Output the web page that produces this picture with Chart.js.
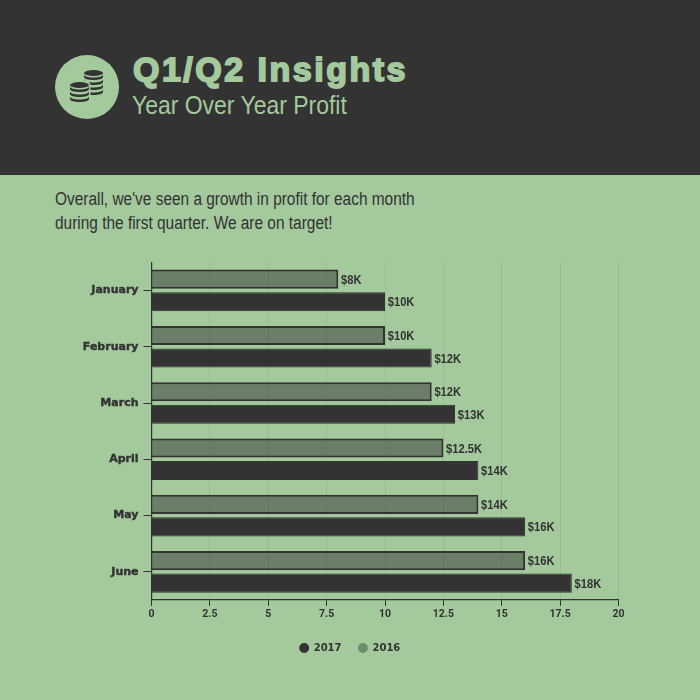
<!DOCTYPE html>
<html><head><meta charset="utf-8">
<style>
html,body{margin:0;padding:0;background:#a3c99d;}
#page{position:relative;width:700px;height:700px;overflow:hidden;background:#a3c99d;}
#hdr{position:absolute;left:0;top:0;width:700px;height:175px;background:#333333;}
.t{position:absolute;white-space:nowrap;transform-origin:left top;}
#title{left:133px;top:49px;font:bold 34px/40px "Liberation Sans";letter-spacing:2.5px;color:#a3c99d;-webkit-text-stroke:1.8px #a3c99d;}
#sub{left:132px;top:89px;font:26px/32px "Liberation Sans";color:#a3c99d;transform:scaleX(.883);}
#body{left:55px;top:188px;font:18px/23.500px "Liberation Sans";color:#333333;transform:scaleX(.857);}
#icon{position:absolute;left:55px;top:55px;}
#c{position:absolute;left:0;top:250px;}
</style></head><body>
<div id="page">
<div id="hdr"></div>
<svg id="icon" width="64" height="64" viewBox="0 0 64 64">
<defs>
<path id="band" d="M0 0v2.500c0 1.700 4.300 3 9.500 3s9.500-1.300 9.500-3V0c0 1.700-4.300 3-9.500 3S0 1.700 0 0z"/>
</defs>
<circle cx="32" cy="32" r="32" fill="#a3c99d"/>
<g fill="#333333">
<ellipse cx="38.500" cy="18" rx="9.500" ry="3"/>
<use href="#band" x="29" y="19.500"/><use href="#band" x="29" y="24.500"/><use href="#band" x="29" y="29.500"/><use href="#band" x="29" y="34.500"/>
<path d="M13.500 30c0-3 4-5 11-5s11 2 11 5v17h-22z" fill="#a3c99d"/>
<ellipse cx="24.500" cy="30" rx="9.500" ry="3"/>
<use href="#band" x="15" y="31.500"/><use href="#band" x="15" y="36.500"/><use href="#band" x="15" y="41.500"/>
</g>
</svg>
<div class="t" id="title">Q1/Q2 Insights</div>
<div class="t" id="sub">Year Over Year Profit</div>
<div class="t" id="body">Overall, we've seen a growth in profit for each month<br>during the first quarter. We are on target!</div>
<canvas id="c" width="700" height="450" style="width:700px;height:450px"></canvas>
</div>
<script src="https://cdn.jsdelivr.net/npm/chart.js@4"></script>
<script>
const months = ["January","February","March","April","May","June"];
const values2016 = [8,10,12,12.5,14,16];
const values2017 = [10,12,13,14,16,18];
const valueTicks = [0,2.5,5,7.5,10,12.5,15,17.5,20];
const dark = "#333333";
const legendGrey = "#6f8a6c";

const valueLabels = {
  id:"valueLabels",
  afterDatasetsDraw(chart){
    const ctx = chart.ctx;
    const squeeze = 0.86;
    ctx.save();
    ctx.font = 'bold 13px "Liberation Sans"';
    ctx.fillStyle = dark;
    ctx.textBaseline = "middle";
    chart.data.datasets.forEach((ds,i)=>{
      chart.getDatasetMeta(i).data.forEach((el,j)=>{
        ctx.save();
        ctx.translate(el.x+2.7, el.y+1);
        ctx.scale(squeeze,1);
        ctx.fillText("$"+ds.data[j]+"K", 0, 0);
        ctx.restore();
      });
    });
    ctx.restore();
  }
};

new Chart(document.getElementById("c"),{
  type:"bar",
  data:{labels:months,datasets:[
    {label:"2016",data:values2016,backgroundColor:"rgba(51,51,51,0.5)",borderColor:dark,borderWidth:2,
     categoryPercentage:0.8,barPercentage:0.85},
    {label:"2017",data:values2017,backgroundColor:dark,borderColor:dark,borderWidth:1,
     categoryPercentage:0.8,barPercentage:0.85}
  ]},
  plugins:[valueLabels],
  options:{
    indexAxis:"y",responsive:false,animation:false,devicePixelRatio:1,
    layout:{padding:{left:81.5,right:81.5,top:12.3,bottom:37}},
    scales:{
      x:{min:0,max:20,
        afterBuildTicks(s){s.ticks=valueTicks.map(v=>({value:v}));},
        afterFit(s){s.height=26;},
        grid:{color:"rgba(51,51,51,0.09)",drawTicks:true,tickLength:6,tickColor:dark},
        border:{color:dark,width:1.2},
        ticks:{color:dark,padding:2,maxRotation:0,font:{family:"Roboto",weight:"bold",size:10.5},callback:v=>String(v)}
      },
      y:{
        afterFit(s){s.width=70;},
        grid:{display:true,offset:false,drawOnChartArea:false,tickLength:8,tickColor:dark},
        border:{color:dark,width:1.2},
        ticks:{color:dark,padding:5,textStrokeColor:dark,textStrokeWidth:0.4,font:{family:"DejaVu Sans",weight:"bold",size:11}}
      }
    },
    plugins:{
      title:{display:false},tooltip:{enabled:false},
      legend:{position:"bottom",reverse:true,align:"center",
        labels:{usePointStyle:true,pointStyle:"circle",boxWidth:9,boxHeight:7,padding:17,color:dark,
          font:{family:"DejaVu Sans",weight:"bold",size:10},
          generateLabels(chart){
            return chart.data.datasets.map((d,i)=>({text:d.label,fontColor:dark,fillStyle:i===0?legendGrey:dark,strokeStyle:i===0?legendGrey:dark,lineWidth:0,pointStyle:"circle",datasetIndex:i}));
          }}
      }
    }
  }
});
</script>
</body></html>
